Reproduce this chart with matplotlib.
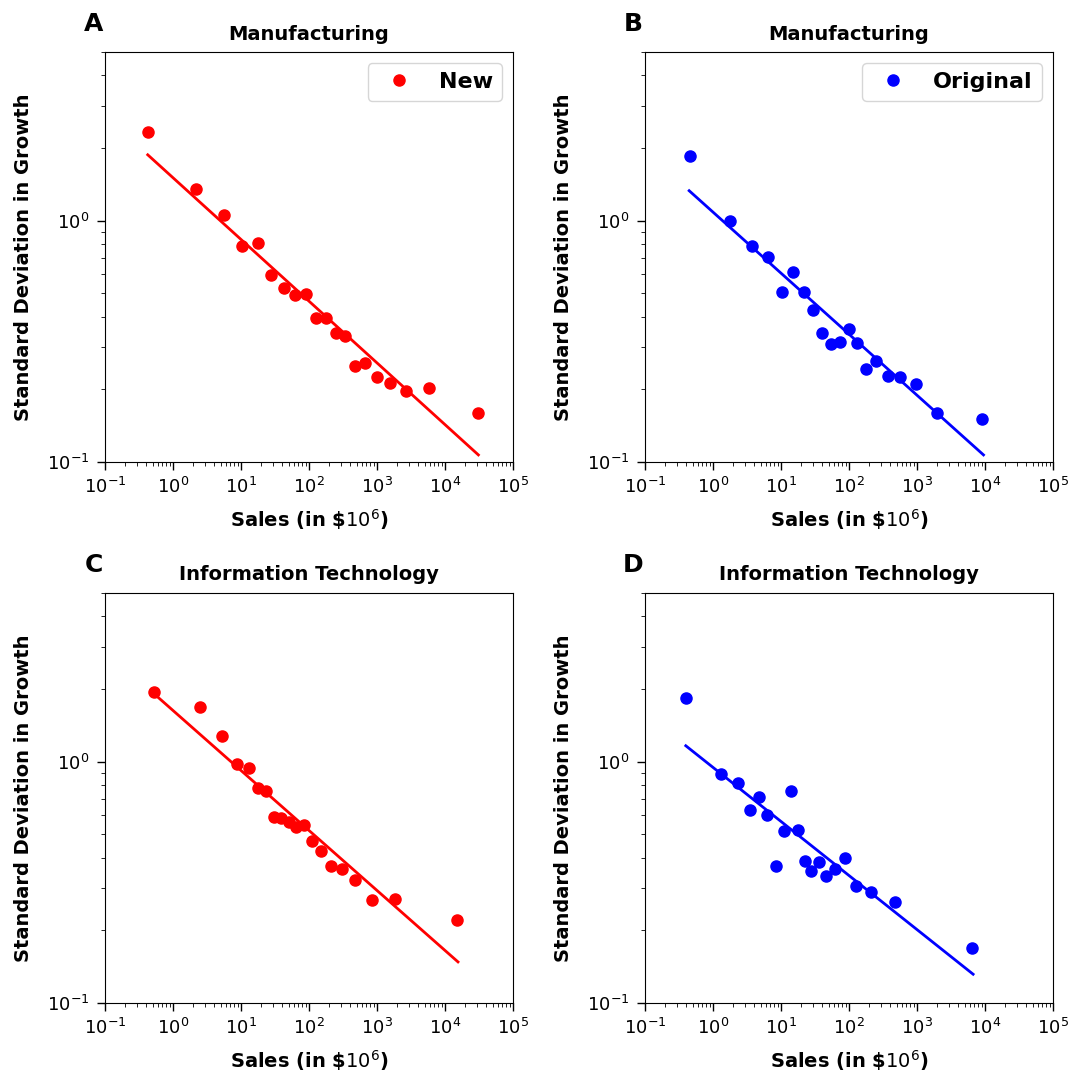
import matplotlib
matplotlib.use('Agg')
import matplotlib.pyplot as plt

# panel A - manufacturing, new
a_x = [0.425, 2.19, 5.58, 10.5, 17.9, 27.8, 42.2, 62.6, 89.9, 128, 177, 246, 341,
       473, 664, 986, 1567, 2667, 5754, 30270]
a_y = [2.33, 1.35, 1.06, 0.787, 0.805, 0.598, 0.525, 0.491, 0.498, 0.394, 0.395,
       0.343, 0.333, 0.249, 0.256, 0.225, 0.212, 0.196, 0.202, 0.160]
a_fit_x = [0.425, 30970]
a_fit_y = [1.875, 0.107]

# panel B - manufacturing, original
b_x = [0.456, 1.80, 3.79, 6.53, 10.3, 15.1, 21.7, 29.8, 40.4, 54.9, 73.8, 99.0,
       131.5, 178, 250, 372, 566, 953, 1968, 9080]
b_y = [1.857, 0.997, 0.784, 0.710, 0.505, 0.612, 0.508, 0.425, 0.341, 0.307, 0.315,
       0.357, 0.310, 0.244, 0.262, 0.228, 0.225, 0.211, 0.159, 0.151]
b_fit_x = [0.446, 9506]
b_fit_y = [1.331, 0.107]

# panel C - information technology, new
c_x = [0.526, 2.50, 5.27, 8.67, 12.9, 17.5, 23.2, 30.1, 39.0, 50.6, 64.8, 85,
       111, 150, 210, 305, 479, 842, 1816, 14860]
c_y = [1.945, 1.69, 1.278, 0.978, 0.940, 0.780, 0.755, 0.591, 0.587, 0.560, 0.536,
       0.545, 0.467, 0.425, 0.370, 0.358, 0.323, 0.267, 0.271, 0.221]
c_fit_x = [0.551, 15530]
c_fit_y = [1.89, 0.148]

# panel D - information technology, original
d_x = [0.407, 1.31, 2.33, 4.76, 3.54, 6.31, 8.47, 11.1, 14.0, 17.7, 22.2, 27.8,
       35.7, 45.8, 62.2, 86.4, 126, 209, 467, 6395]
d_y = [1.835, 0.893, 0.816, 0.715, 0.628, 0.604, 0.371, 0.516, 0.755, 0.519, 0.388,
       0.352, 0.385, 0.335, 0.360, 0.397, 0.305, 0.288, 0.261, 0.169]
d_fit_x = [0.398, 6690]
d_fit_y = [1.164, 0.1316]

panels = [
    ('A', 'Manufacturing', a_x, a_y, a_fit_x, a_fit_y, 'red', 'New'),
    ('B', 'Manufacturing', b_x, b_y, b_fit_x, b_fit_y, 'blue', 'Original'),
    ('C', 'Information Technology', c_x, c_y, c_fit_x, c_fit_y, 'red', None),
    ('D', 'Information Technology', d_x, d_y, d_fit_x, d_fit_y, 'blue', None),
]

W, H = 1072, 1071
fig = plt.figure(figsize=(W / 100, H / 100), dpi=100)

# axes boxes in pixels: left, top
boxes = [(105, 52), (645, 52), (105, 593), (645, 593)]
aw, ah = 408, 410

for (letter, title, x, y, fx, fy, col, lab), (l, t) in zip(panels, boxes):
    ax = fig.add_axes([l / W, (H - t - ah) / H, aw / W, ah / H])
    ax.plot(x, y, 'o', color=col, markersize=8, label=lab)
    ax.plot(fx, fy, '-', color=col, linewidth=2)
    ax.set_xscale('log')
    ax.set_yscale('log')
    ax.set_xlim(0.1, 1e5)
    ax.set_ylim(0.1, 5)
    ax.tick_params(which='both', labelsize=13)
    ax.tick_params(which='major', length=6, width=1, pad=5)
    ax.tick_params(which='minor', length=3)
    ax.set_title(title, fontsize=14, fontweight='bold', pad=9)
    ax.set_xlabel('Sales (in \\$$10^6$)', fontsize=14, fontweight='bold', labelpad=7)
    ax.set_ylabel('Standard Deviation in Growth', fontsize=14, fontweight='bold',
                  labelpad=10)
    ax.text(-0.005, 1.051, letter, transform=ax.transAxes, fontsize=18,
            fontweight='bold', ha='right', va='baseline')
    if lab:
        ax.legend(loc='upper right', prop={'weight': 'bold', 'size': 16})

fig.savefig('out.png', dpi=100)
